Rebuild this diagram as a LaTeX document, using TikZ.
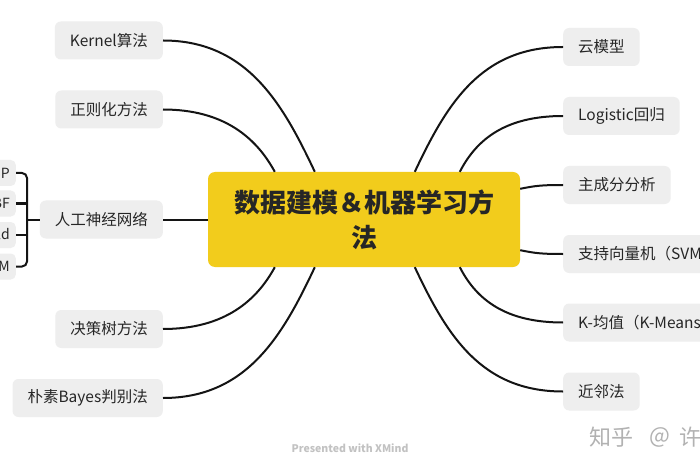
\documentclass[tikz,border=0pt]{standalone}
\usepackage{fontspec}
\setmainfont{Noto Sans CJK SC}
\usetikzlibrary{calc}
\definecolor{hubyellow}{RGB}{242,204,28}
\definecolor{leafgray}{RGB}{238,238,238}
\definecolor{ink}{RGB}{38,38,38}
\definecolor{linec}{RGB}{20,20,20}
\begin{document}
\begin{tikzpicture}[x=1pt,y=-1pt,
  leaf/.style={fill=leafgray, rounded corners=6pt, minimum height=38pt, inner xsep=15pt, inner ysep=0pt, font=\fontsize{15.5}{18}\selectfont, text=ink},
  subleaf/.style={fill=leafgray, rounded corners=5pt, minimum height=26pt, inner xsep=6pt, inner ysep=0pt, font=\fontsize{14}{16}\selectfont, text=ink, anchor=east},
  conn/.style={draw=linec, line width=2pt},
  hubbox/.style={fill=hubyellow, rounded corners=7pt, minimum width=312pt, minimum height=95pt, inner sep=0pt, align=center, font=\fontsize{26}{35}\selectfont\bfseries, text=ink},
  wmark/.style={inner sep=0pt}
]
\useasboundingbox (0,0) rectangle (700,470);
\fill[white] (0,0) rectangle (700,470);

% central topic
\node[hubbox] (hub) at (364,219.5) {数据建模＆机器学习方\\法};

% left branches
\node[leaf,anchor=east] (kern)  at (163,40.5)  {Kernel算法};
\node[leaf,anchor=east] (reg)   at (163,109.5) {正则化方法};
\node[leaf,anchor=east] (ann)   at (163,219.5) {人工神经网络};
\node[leaf,anchor=east] (tree)  at (163,329)   {决策树方法};
\node[leaf,anchor=east] (bayes) at (163,398)   {朴素Bayes判别法};

% right branches
\node[leaf,anchor=west] (cloud)  at (563,47)    {云模型};
\node[leaf,anchor=west] (logi)   at (563,116)   {Logistic回归};
\node[leaf,anchor=west] (pca)    at (563,185)   {主成分分析};
\node[leaf,anchor=west] (svm)    at (563,254)   {支持向量机（SVM）};
\node[leaf,anchor=west] (kmeans) at (563,322.5) {K-均值（K-Means）};
\node[leaf,anchor=west] (knn)    at (563,391.5) {近邻法};

% sub branches of ANN
\node[subleaf] (bp)  at (16,173)   {BP};
\node[subleaf] (rbf) at (16,203.5) {RBF};
\node[subleaf] (hop) at (16,235)   {Hopfield};
\node[subleaf] (som) at (16,266.5) {SOM};
\coordinate (brk) at (27,219.5);

% connectors
\draw[conn] (kern.east) .. controls +(84,0) and +(-32,-68) .. ($(hub.north west)+(107,0)$);
\draw[conn] (reg.east) .. controls +(62,0) and +(-18,-33) .. ($(hub.north west)+(67,0)$);
\draw[conn] (hub.west) -- (ann.east);
\draw[conn] (tree.east) .. controls +(62,0) and +(-18,33) .. ($(hub.south west)+(67,0)$);
\draw[conn] (bayes.east) .. controls +(84,0) and +(-32,68) .. ($(hub.south west)+(107,0)$);

\draw[conn] (cloud.west) .. controls +(-82,0) and +(32,-68) .. ($(hub.north west)+(207,0)$);
\draw[conn] (logi.west) .. controls +(-57,0) and +(17,-33) .. ($(hub.north west)+(252,0)$);
\draw[conn] (pca.west) .. controls +(-22,0) and +(15,-3) .. ($(hub.north east)+(0,17)$);
\draw[conn] (svm.west) .. controls +(-22,0) and +(15,3) .. ($(hub.south east)+(0,-17)$);
\draw[conn] (kmeans.west) .. controls +(-57,0) and +(17,33) .. ($(hub.south west)+(252,0)$);
\draw[conn] (knn.west) .. controls +(-82,0) and +(32,68) .. ($(hub.south west)+(207,0)$);

% bracket
\draw[conn, rounded corners=5pt] (bp.east) -| (brk) |- (som.east);
\draw[conn] (rbf.east) -- (rbf.east -| brk);
\draw[conn] (hop.east) -- (hop.east -| brk);
\draw[conn] (brk) -- (ann.west);

% watermarks
\node[wmark, font=\fontsize{10.5}{12}\selectfont\bfseries, text=black!24] (xm) at (350,448) {Presented with XMind};
\node[wmark, anchor=west, font=\fontsize{22}{24}\selectfont, text=black!30] (zh) at (589,437) {知乎};
\node[wmark, anchor=west, font=\fontsize{22}{24}\selectfont, text=black!30] (at) at (649,437) {@};
\node[wmark, anchor=west, font=\fontsize{22}{24}\selectfont, text=black!30] (xu) at (679,437) {许};
\end{tikzpicture}
\end{document}
